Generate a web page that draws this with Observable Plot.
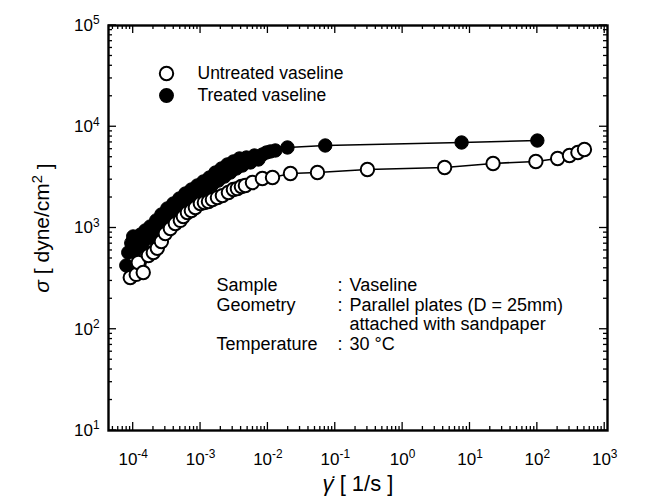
<!DOCTYPE html>
<html><head><meta charset="utf-8">
<script src="https://cdn.jsdelivr.net/npm/d3@7"></script>
<script src="https://cdn.jsdelivr.net/npm/@observablehq/plot@0.6"></script>
<style>
body{margin:0;background:#fff;}
#chart svg{font-family:"Liberation Sans",Arial,Helvetica,sans-serif;}
</style></head><body><div id="chart"></div>
<script>
// Untreated vaseline (open circles): shear rate [1/s], stress [dyne/cm^2]
const untreatedRate = [9.05e-5,1.11e-4,1.19e-4,1.41e-4,1.68e-4,1.99e-4,2.28e-4,2.62e-4,3.0e-4,3.56e-4,4.22e-4,5.01e-4,5.55e-4,6.37e-4,7.3e-4,8.37e-4,9.93e-4,1.14e-3,1.31e-3,1.5e-3,1.78e-3,2.11e-3,2.59e-3,3.07e-3,3.52e-3,4.04e-3,4.63e-3,5.89e-3,8.28e-3,1.17e-2,2.16e-2,5.44e-2,0.3,4.2,22,95,200,300,400,500];
const untreatedStress = [324,348,456,363,535,573,630,736,883,990,1107,1190,1300,1420,1490,1594,1745,1785,1827,1911,2000,2090,2240,2400,2450,2570,2630,2810,3080,3150,3450,3530,3780,3960,4340,4540,4860,5200,5570,5960];
// Treated vaseline (filled circles)
const treatedRate = [7.9e-5,8.45e-5,9.37e-5,1.0e-4,1.07e-4,1.15e-4,1.28e-4,1.36e-4,1.51e-4,1.68e-4,1.79e-4,1.99e-4,2.2e-4,2.36e-4,2.62e-4,2.9e-4,3.21e-4,3.56e-4,3.94e-4,4.37e-4,4.84e-4,5.37e-4,5.94e-4,6.59e-4,7.3e-4,8.09e-4,8.95e-4,9.93e-4,1.1e-3,1.22e-3,1.35e-3,1.5e-3,1.66e-3,1.84e-3,2.04e-3,2.26e-3,2.5e-3,2.77e-3,3.07e-3,3.4e-3,3.78e-3,4.18e-3,4.8e-3,5.5e-3,6.3e-3,7.23e-3,8.28e-3,9.51e-3,1.09e-2,1.29e-2,1.95e-2,7.1e-2,7.5,100];
const treatedStress = [427,573,710,825,600,755,860,670,945,790,1035,900,1190,990,1360,1130,1560,1300,1745,1490,1955,1670,2190,1870,2400,2050,2630,2240,2880,2450,3150,2690,3530,2940,3870,3220,4240,3530,4540,3870,4860,4140,4970,4440,5200,4750,5320,5570,5700,5830,6240,6530,6990,7310];

const xTickValues = [1e-4,1e-3,1e-2,1e-1,1,10,100,1000];
const yTickValues = [10,100,1000,10000,100000];
const legendLabels = ["Untreated vaseline","Treated vaseline"];
const noteLabels = ["Sample","Geometry","","Temperature"];
const noteValues = ["Vaseline","Parallel plates (D = 25mm)","attached with sandpaper","30 \u00B0C"];

const untreated = untreatedRate.map((x,i)=>({x, y: untreatedStress[i]}));
const treated = treatedRate.map((x,i)=>({x, y: treatedStress[i]}));
const expFmt = d => String(Math.round(Math.log10(d)));
const noteRows = noteLabels.map((l,i)=>({label:l, value:noteValues[i], i}));

const W = 651, H = 498, ML = 108, MR = 44, MT = 25, MB = 68;
const FONT = '"Liberation Sans",Arial,sans-serif';
const R = 6.7;
const rowDy = i => 260 + i * 19.5;
const noteMarks = [];
noteRows.forEach(r => {
  if (r.label) {
    noteMarks.push(Plot.text([r], {frameAnchor: "top-left", dx: 108, dy: rowDy(r.i), text: "label", textAnchor: "start", lineAnchor: "middle", fontSize: 18, fill: "#000"}));
    noteMarks.push(Plot.text([r], {frameAnchor: "top-left", dx: 229, dy: rowDy(r.i), text: () => ":", textAnchor: "start", lineAnchor: "middle", fontSize: 18, fill: "#000"}));
  }
  noteMarks.push(Plot.text([r], {frameAnchor: "top-left", dx: 241, dy: rowDy(r.i), text: "value", textAnchor: "start", lineAnchor: "middle", fontSize: 18, fill: "#000"}));
});

const plot = Plot.plot({
  width: W, height: H,
  marginLeft: ML, marginRight: MR, marginTop: MT, marginBottom: MB,
  style: {fontFamily: FONT, fontSize: "17px", color: "#000", background: "#fff"},
  x: {type: "log", domain: [4.3e-5, 1.1e3], ticks: xTickValues, tickFormat: expFmt, tickSize: 0, tickPadding: 22, label: null},
  y: {type: "log", domain: [10, 1e5], ticks: yTickValues, tickFormat: expFmt, tickSize: 0, tickPadding: 9, label: null},
  marks: [
    Plot.line(treated, {x: "x", y: "y", stroke: "#000", strokeWidth: 1.6}),
    Plot.dot(treated, {x: "x", y: "y", r: R, fill: "#000", stroke: "#000", strokeWidth: 1}),
    Plot.line(untreated, {x: "x", y: "y", stroke: "#000", strokeWidth: 1.6}),
    Plot.dot(untreated, {x: "x", y: "y", r: R, fill: "#fff", stroke: "#000", strokeWidth: 2}),
    Plot.frame({stroke: "#000", strokeWidth: 2.4}),
    // legend
    Plot.dot([legendLabels[0]], {frameAnchor: "top-left", dx: 58, dy: 48, r: R, fill: "#fff", stroke: "#000", strokeWidth: 2}),
    Plot.dot([legendLabels[1]], {frameAnchor: "top-left", dx: 58, dy: 70, r: R, fill: "#000", stroke: "#000"}),
    Plot.text([legendLabels[0]], {frameAnchor: "top-left", dx: 89, dy: 48, text: d => d, textAnchor: "start", lineAnchor: "middle", fontSize: 17.5, fill: "#000"}),
    Plot.text([legendLabels[1]], {frameAnchor: "top-left", dx: 89, dy: 70, text: d => d, textAnchor: "start", lineAnchor: "middle", fontSize: 17.5, fill: "#000"}),
    ...noteMarks
  ]
});

const svg = d3.select(plot);
// superscript tick labels
svg.selectAll('g[aria-label="x-axis tick label"] text, g[aria-label="y-axis tick label"] text').each(function(){
  const t = d3.select(this);
  const e = t.text().replace("\u2212","-");
  t.text(null);
  t.append("tspan").text("10");
  t.append("tspan").attr("dy","-0.55em").attr("font-size","0.7em").text(e);
});

// inward ticks on all four sides
const sx = plot.scale("x"), sy = plot.scale("y");
const tg = svg.append("g").attr("stroke", "#000").attr("stroke-width", 1.3);
const x0 = ML, x1 = W - MR, y0 = MT, y1 = H - MB;
function tickList(lo, hi){
  const out = [];
  for (let e = Math.floor(Math.log10(lo)); e <= Math.ceil(Math.log10(hi)); e++)
    for (let k = 1; k <= 9; k++){ const v = k * Math.pow(10, e); if (v >= lo && v <= hi) out.push({v, major: k === 1}); }
  return out;
}
tickList(4.3e-5, 1.1e3).forEach(({v, major})=>{
  const px = sx.apply(v), len = major ? 8 : 4;
  tg.append("line").attr("x1", px).attr("x2", px).attr("y1", y1).attr("y2", y1 - len);
  tg.append("line").attr("x1", px).attr("x2", px).attr("y1", y0).attr("y2", y0 + len);
});
tickList(10, 1e5).forEach(({v, major})=>{
  const py = sy.apply(v), len = major ? 8 : 4;
  tg.append("line").attr("y1", py).attr("y2", py).attr("x1", x0).attr("x2", x0 + len);
  tg.append("line").attr("y1", py).attr("y2", py).attr("x1", x1).attr("x2", x1 - len);
});

// axis titles
svg.append("text").attr("x", 358).attr("y", 491).attr("text-anchor", "middle").attr("font-size", 22)
  .html('<tspan font-style="italic">\u03B3\u0307</tspan> [ 1/s ]');
svg.append("text").attr("transform", "translate(49,228) rotate(-90)").attr("text-anchor", "middle").attr("font-size", 21)
  .html('<tspan font-style="italic">\u03C3</tspan> [ dyne/cm<tspan dy="-0.5em" font-size="0.7em">2</tspan><tspan dy="0.5em"> ]</tspan>');

document.getElementById("chart").appendChild(plot);
</script></body></html>
